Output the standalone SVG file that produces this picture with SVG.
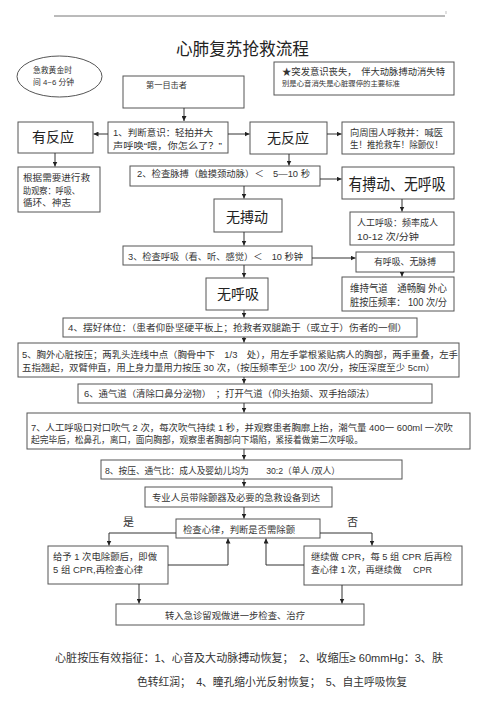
<svg xmlns="http://www.w3.org/2000/svg" width="500" height="713" viewBox="0 0 500 713">
<style>
.b{fill:#fff;stroke:#555;stroke-width:1}
.t{font-family:"Liberation Sans","Noto Sans CJK SC",sans-serif;fill:#333;font-size:9px}
.big{font-family:"Noto Sans CJK SC",sans-serif;fill:#222;font-size:14px;text-anchor:middle}
.c{fill:none;stroke:#333;stroke-width:1;marker-end:url(#a)}
.n{fill:none;stroke:#333;stroke-width:1}
</style>
<defs>
<marker id="a" viewBox="0 0 6 6" refX="6" refY="3" markerWidth="5" markerHeight="5" markerUnits="userSpaceOnUse" orient="auto">
<path d="M0,0L6,3L0,6z" fill="#222"/>
</marker>
</defs>
<rect width="500" height="713" fill="#fff"/>
<line x1="54" y1="16" x2="445" y2="16" stroke="#777" stroke-width="1"/>
<line x1="446" y1="11" x2="446" y2="14" stroke="#999" stroke-width="0.6"/>
<text x="176" y="55" class="t" style="font-size:17px;fill:#222" textLength="133" lengthAdjust="spacingAndGlyphs">心肺复苏抢救流程</text>

<g id="golden">
<ellipse cx="59.5" cy="76.5" rx="42.5" ry="20.5" class="b"/>
<text x="33" y="73" class="t" style="font-size:8px" textLength="39" lengthAdjust="spacingAndGlyphs">急救黄金时</text>
<text x="33" y="85" class="t" style="font-size:8px" textLength="41" lengthAdjust="spacingAndGlyphs">间 4~6 分钟</text>
</g>
<g id="witness">
<rect x="123" y="76" width="121" height="32" class="b"/>
<text x="146" y="88" class="t" style="font-size:8px" textLength="41" lengthAdjust="spacingAndGlyphs">第一目击者</text>
</g>
<g id="note">
<rect x="274" y="62" width="180" height="33" class="b"/>
<text x="282" y="75" class="t" style="font-size:9.5px" textLength="163" lengthAdjust="spacingAndGlyphs">★突发意识丧失，　伴大动脉搏动消失特</text>
<text x="282" y="86" class="t" style="font-size:7px" textLength="118" lengthAdjust="spacingAndGlyphs">别是心音消失是心脏骤停的主要标准</text>
</g>
<g id="step1">
<rect x="108" y="122" width="120" height="31" class="b"/>
<text x="113" y="135.5" class="t" textLength="100" lengthAdjust="spacingAndGlyphs">1、判断意识：轻拍并大</text>
<text x="113" y="149" class="t" textLength="109" lengthAdjust="spacingAndGlyphs">声呼唤“喂，你怎么了？”</text>
</g>
<g id="response">
<rect x="18" y="122" width="75" height="31" class="b"/>
<text x="53" y="142" class="big">有反应</text>
</g>
<g id="assist">
<rect x="18" y="167" width="82" height="45" class="b"/>
<text x="23" y="180.5" class="t" textLength="67" lengthAdjust="spacingAndGlyphs">根据需要进行救</text>
<text x="23" y="193.5" class="t" textLength="57" lengthAdjust="spacingAndGlyphs">助观察：呼吸、</text>
<text x="23" y="205.5" class="t" textLength="48" lengthAdjust="spacingAndGlyphs">循环、神志</text>
</g>
<g id="noresponse">
<rect x="250" y="122" width="77" height="32" class="b"/>
<text x="288" y="143" class="big">无反应</text>
</g>
<g id="call">
<rect x="342" y="122" width="112" height="32" class="b"/>
<text x="350" y="135.5" class="t" textLength="93" lengthAdjust="spacingAndGlyphs">向周围人呼救并：喊医</text>
<text x="350" y="147.5" class="t" textLength="93" lengthAdjust="spacingAndGlyphs">生！推抢救车！除颤仪！</text>
</g>
<g id="step2">
<rect x="130" y="166" width="190" height="20" class="b"/>
<text x="137" y="176.5" class="t" textLength="173" lengthAdjust="spacingAndGlyphs">2、检查脉搏（触摸颈动脉）＜　5—10 秒</text>
</g>
<g id="pulse-nobreath">
<rect x="342" y="167" width="112" height="32" class="b"/>
<text x="397" y="190" class="big" style="font-size:16px" textLength="97" lengthAdjust="spacingAndGlyphs">有搏动、无呼吸</text>
</g>
<g id="rescue-breath">
<rect x="350" y="212" width="104" height="33" class="b"/>
<text x="357" y="226" class="t" textLength="81" lengthAdjust="spacingAndGlyphs">人工呼吸：频率成人</text>
<text x="357" y="240" class="t" textLength="62" lengthAdjust="spacingAndGlyphs">10-12 次/分钟</text>
</g>
<g id="nopulse">
<rect x="214" y="199" width="68" height="33" class="b"/>
<text x="247" y="222" class="big">无搏动</text>
</g>
<g id="step3">
<rect x="123" y="246" width="189" height="19" class="b"/>
<text x="128" y="259.5" class="t" textLength="175" lengthAdjust="spacingAndGlyphs">3、检查呼吸（看、听、感觉）＜　10 秒钟</text>
</g>
<g id="breath-nopulse">
<rect x="356" y="252" width="98" height="20" class="b"/>
<text x="405" y="265" class="t" style="text-anchor:middle" textLength="62" lengthAdjust="spacingAndGlyphs">有呼吸、无脉搏</text>
</g>
<g id="keep-airway">
<rect x="342" y="277" width="112" height="34" class="b"/>
<text x="350" y="291.5" class="t" style="font-size:10px" textLength="97" lengthAdjust="spacingAndGlyphs">维持气道　通畅胸 外心</text>
<text x="350" y="305.5" class="t" style="font-size:10px" textLength="97" lengthAdjust="spacingAndGlyphs">脏按压频率：  100 次/分</text>
</g>
<g id="nobreath">
<rect x="206" y="278" width="62" height="32" class="b"/>
<text x="238" y="299" class="big">无呼吸</text>
</g>
<g id="step4">
<rect x="63" y="318" width="354" height="19" class="b"/>
<text x="68" y="331" class="t" textLength="339" lengthAdjust="spacingAndGlyphs">4、摆好体位：（患者仰卧坚硬平板上；抢救者双腿跪于（或立于）伤者的一侧）</text>
</g>
<g id="step5">
<rect x="18" y="343" width="441" height="34" class="b"/>
<text x="22" y="357.5" class="t" textLength="436" lengthAdjust="spacingAndGlyphs">5、胸外心脏按压；两乳头连线中点（胸骨中下　1/3　处），用左手掌根紧贴病人的胸部，两手重叠，左手</text>
<text x="22" y="370.5" class="t" textLength="413" lengthAdjust="spacingAndGlyphs">五指翘起，双臂伸直，用上身力量用力按压 30 次，（按压频率至少 100 次/分，按压深度至少 5cm）</text>
</g>
<g id="step6">
<rect x="78" y="384" width="354" height="19" class="b"/>
<text x="84" y="397" class="t" textLength="291" lengthAdjust="spacingAndGlyphs">6、通气道（清除口鼻分泌物）　；打开气道（仰头抬颏、双手抬颌法）</text>
</g>
<g id="step7">
<rect x="27" y="413" width="443" height="36" class="b"/>
<text x="31" y="430.5" class="t" textLength="422" lengthAdjust="spacingAndGlyphs">7、人工呼吸口对口吹气 2 次，每次吹气持续 1 秒，并观察患者胸廓上抬，潮气量 400一 600ml 一次吹</text>
<text x="31" y="442.5" class="t" textLength="332" lengthAdjust="spacingAndGlyphs">起完毕后，松鼻孔，离口，面向胸部，观察患者胸部向下塌陷，紧接着做第二次呼吸。</text>
</g>
<g id="step8">
<rect x="101" y="460" width="301" height="19" class="b"/>
<text x="105" y="474" class="t" textLength="235" lengthAdjust="spacingAndGlyphs">8、按压、通气比：成人及婴幼儿均为　　30:2（单人 /双人）</text>
</g>
<g id="arrive">
<rect x="145" y="487" width="187" height="20" class="b"/>
<text x="152" y="501" class="t" textLength="168" lengthAdjust="spacingAndGlyphs">专业人员带除颤器及必要的急救设备到达</text>
</g>
<g id="check-rhythm">
<rect x="176" y="519" width="144" height="19" class="b"/>
<text x="183" y="533" class="t" textLength="112" lengthAdjust="spacingAndGlyphs">检查心律，判断是否需除颤</text>
</g>
<g id="defib">
<rect x="48" y="546" width="120" height="38" class="b"/>
<text x="53" y="559.5" class="t" textLength="104" lengthAdjust="spacingAndGlyphs">给予 1 次电除颤后，即做</text>
<text x="53" y="572.5" class="t" textLength="90" lengthAdjust="spacingAndGlyphs">5 组 CPR,再检查心律</text>
</g>
<g id="continue-cpr">
<rect x="304" y="546" width="158" height="39" class="b"/>
<text x="311" y="559.5" class="t" textLength="141" lengthAdjust="spacingAndGlyphs">继续做 CPR，每 5 组 CPR 后再检</text>
<text x="311" y="572.5" class="t" textLength="121" lengthAdjust="spacingAndGlyphs">查心律 1 次，再继续做　 CPR</text>
</g>
<g id="transfer">
<rect x="116" y="604" width="248" height="21" class="b"/>
<text x="165" y="618.5" class="t" textLength="140" lengthAdjust="spacingAndGlyphs">转入急诊留观做进一步检查、治疗</text>
</g>

<g id="connectors">
<path class="c" d="M184,108V121"/>
<path class="c" d="M108,134H93.5"/>
<path class="c" d="M228,134H249.5"/>
<path class="c" d="M327,134H341.5"/>
<path class="c" d="M55,153V166.5"/>
<path class="c" d="M289,154V165.5"/>
<path class="c" d="M320,179H341.5"/>
<path class="c" d="M402,199V211.5"/>
<path class="c" d="M244,186V198.5"/>
<path class="c" d="M244,232V245.5"/>
<path class="c" d="M312,258H355.5"/>
<path class="c" d="M402,272V276.5"/>
<path class="c" d="M244,265V277.5"/>
<path class="c" d="M244,310V317.5"/>
<path class="c" d="M244,337V342.5"/>
<path class="c" d="M244,377V383.5"/>
<path class="c" d="M244,403V412.5"/>
<path class="c" d="M244,449V459.5"/>
<path class="c" d="M244,479V486.5"/>
<path class="c" d="M244,507V518.5"/>
<path class="c" d="M176,533H109V545.5"/>
<path class="c" d="M320,533H372V545.5"/>
<path class="c" d="M168,565H228V538.5"/>
<path class="c" d="M304,565H266V538.5"/>
<path class="c" d="M139,584V603.5"/>
<path class="c" d="M342,585V603.5"/>
</g>
<text x="123" y="526" class="t" style="font-size:11px">是</text>
<text x="347" y="526" class="t" style="font-size:11px">否</text>

<text x="55" y="662" class="t" style="font-size:11.5px" textLength="388" lengthAdjust="spacingAndGlyphs">心脏按压有效指征：1、心音及大动脉搏动恢复；　2、收缩压≥ 60mmHg：3、肤</text>
<text x="137" y="686" class="t" style="font-size:11.5px" textLength="270" lengthAdjust="spacingAndGlyphs">色转红润；　4、瞳孔缩小光反射恢复；　5、自主呼吸恢复</text>
</svg>
